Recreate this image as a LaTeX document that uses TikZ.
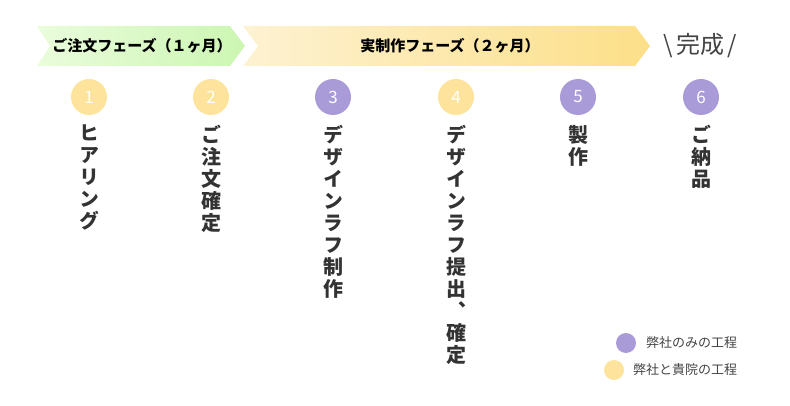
\documentclass[tikz,border=0pt]{standalone}
\usepackage{fontspec}
\setmainfont{Noto Sans CJK JP}
\newfontfamily\jp{Noto Sans CJK JP}
\newfontfamily\vjp[RawFeature=+vert]{Noto Sans CJK JP}
\definecolor{greenL}{HTML}{EAFCDC}
\definecolor{greenR}{HTML}{CCF6B2}
\definecolor{yelL}{HTML}{FDF2D2}
\definecolor{yelR}{HTML}{FCDF88}
\definecolor{cyel}{HTML}{FDE39B}
\definecolor{cpur}{HTML}{A99BD8}
\definecolor{txt}{HTML}{333333}
\definecolor{gtxt}{HTML}{444444}
\tikzset{
  phasetext/.style={font=\jp\bfseries\fontsize{15}{17}\selectfont, text=black, inner sep=0},
  numcircle/.style={circle, minimum size=36pt, inner sep=0, text=white, font=\jp\fontsize{17}{18}\selectfont},
  vlabel/.style={anchor=north, align=center, inner sep=0, text=txt, font=\vjp\bfseries\fontsize{20}{22}\selectfont},
  legdot/.style={circle, minimum size=20pt, inner sep=0},
  legtext/.style={anchor=west, inner sep=0, text=gtxt, font=\jp\fontsize{13}{15}\selectfont}
}
\begin{document}
\begin{tikzpicture}[x=1pt,y=-1pt]
\useasboundingbox (0,0) rectangle (790,406);
% phase arrows
\shade[left color=greenL, right color=greenR] (37,26) -- (230,26) -- (245,46) -- (230,66) -- (37,66) -- (50,46) -- cycle;
\shade[left color=yelL, right color=yelR] (243,26) -- (635,26) -- (650,46) -- (635,66) -- (243,66) -- (258,46) -- cycle;
\node[phasetext] (p1) at (142,46) {ご注文フェーズ（１ヶ月）};
\node[phasetext] (p2) at (450,46) {実制作フェーズ（２ヶ月）};
\node[inner sep=0, text=gtxt, font=\jp\fontsize{24}{25}\selectfont] (done) at (700,46) {{\char"5C}\kern3pt 完成\kern3pt/};
% circles
\node[numcircle, fill=cyel] (c1) at (89,97) {1};
\node[numcircle, fill=cyel] (c2) at (211,97) {2};
\node[numcircle, fill=cpur] (c3) at (333,97) {3};
\node[numcircle, fill=cyel] (c4) at (456,97) {4};
\node[numcircle, fill=cpur] (c5) at (578,97) {5};
\node[numcircle, fill=cpur] (c6) at (701,97) {6};
% vertical labels
\node[vlabel] (l1) at (89,125) {ヒ\\ア\\リ\\ン\\グ};
\node[vlabel] (l2) at (211,125) {ご\\注\\文\\確\\定};
\node[vlabel] (l3) at (333,125) {デ\\ザ\\イ\\ン\\ラ\\フ\\制\\作};
\node[vlabel] (l4) at (456,125) {デ\\ザ\\イ\\ン\\ラ\\フ\\提\\出\\、\\確\\定};
\node[vlabel] (l5) at (578,125) {製\\作};
\node[vlabel] (l6) at (701,125) {ご\\納\\品};
% legend
\node[legdot, fill=cpur] (d1) at (626,343) {};
\node[legtext] (t1) at (646,343) {弊社のみの工程};
\node[legdot, fill=cyel] (d2) at (614,370) {};
\node[legtext] (t2) at (633,370) {弊社と貴院の工程};
\end{tikzpicture}
\end{document}
